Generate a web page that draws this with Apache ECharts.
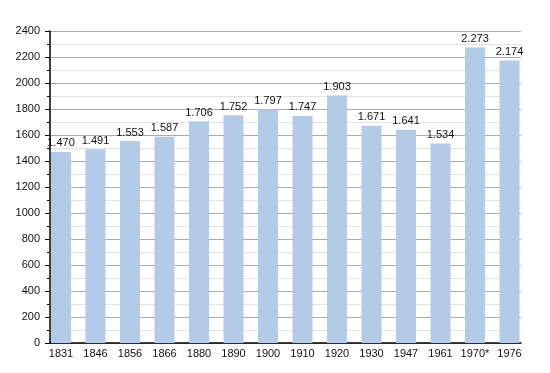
<!DOCTYPE html>
<html>
<head>
<meta charset="utf-8">
<script src="https://cdn.jsdelivr.net/npm/echarts@6/dist/echarts.min.js"></script>
<style>html,body{margin:0;padding:0;background:#fff}#c{width:550px;height:373px}</style>
</head>
<body>
<div id="c"></div>
<script>
var categories = ['1831','1846','1856','1866','1880','1890','1900','1910','1920','1930','1947','1961','1970*','1976'];
var population = [1470,1491,1553,1587,1706,1752,1797,1747,1903,1671,1641,1534,2273,2174];
var yTicks = {min: 0, max: 2400, interval: 200};

var chart = echarts.init(document.getElementById('c'), null, {renderer: 'canvas'});
var font = 'Liberation Sans, Arial, sans-serif';
chart.setOption({
  animation: false,
  grid: [
    {left: 50, right: 29, top: 31, bottom: 30, containLabel: false},
    {left: 43.75, right: 23.25, top: 31, bottom: 30, containLabel: false}
  ],
  xAxis: [
    {gridIndex: 0, type: 'category', data: categories, show: true,
     axisLine: {show: true, lineStyle: {color: '#000', width: 1.5}},
     axisTick: {show: false}, axisLabel: {show: false}, splitLine: {show: false}},
    {gridIndex: 1, type: 'category', data: categories,
     axisLine: {show: false}, axisTick: {show: false},
     axisLabel: {interval: 0, color: '#111', fontFamily: font, fontSize: 11, margin: 5}}
  ],
  yAxis: [
    {gridIndex: 0, type: 'value', min: yTicks.min, max: yTicks.max, interval: yTicks.interval,
     axisLine: {show: true, lineStyle: {color: '#000', width: 1.5}},
     axisTick: {show: true, length: 5, inside: false, lineStyle: {color: '#000'}},
     minorTick: {show: true, splitNumber: 2, length: 3, lineStyle: {color: '#000'}},
     axisLabel: {color: '#111', fontFamily: font, fontSize: 11, margin: 10,
       formatter: function (v) { return String(v); }},
     splitLine: {show: true, lineStyle: {color: '#aaaaaa', width: 1}},
     minorSplitLine: {show: true, lineStyle: {color: '#e2e2e2', width: 1}}},
    {gridIndex: 1, type: 'value', min: yTicks.min, max: yTicks.max, interval: yTicks.interval, show: false}
  ],
  series: [{
    type: 'bar', xAxisIndex: 1, yAxisIndex: 1,
    data: population, barWidth: 20,
    itemStyle: {color: '#b3cbe6'},
    label: {show: true, position: 'top', distance: 3, color: '#111', fontFamily: font, fontSize: 11,
      formatter: function (p) { var s = String(p.value); return s.slice(0, s.length - 3) + '.' + s.slice(-3); }}
  }]
});
</script>
</body>
</html>
